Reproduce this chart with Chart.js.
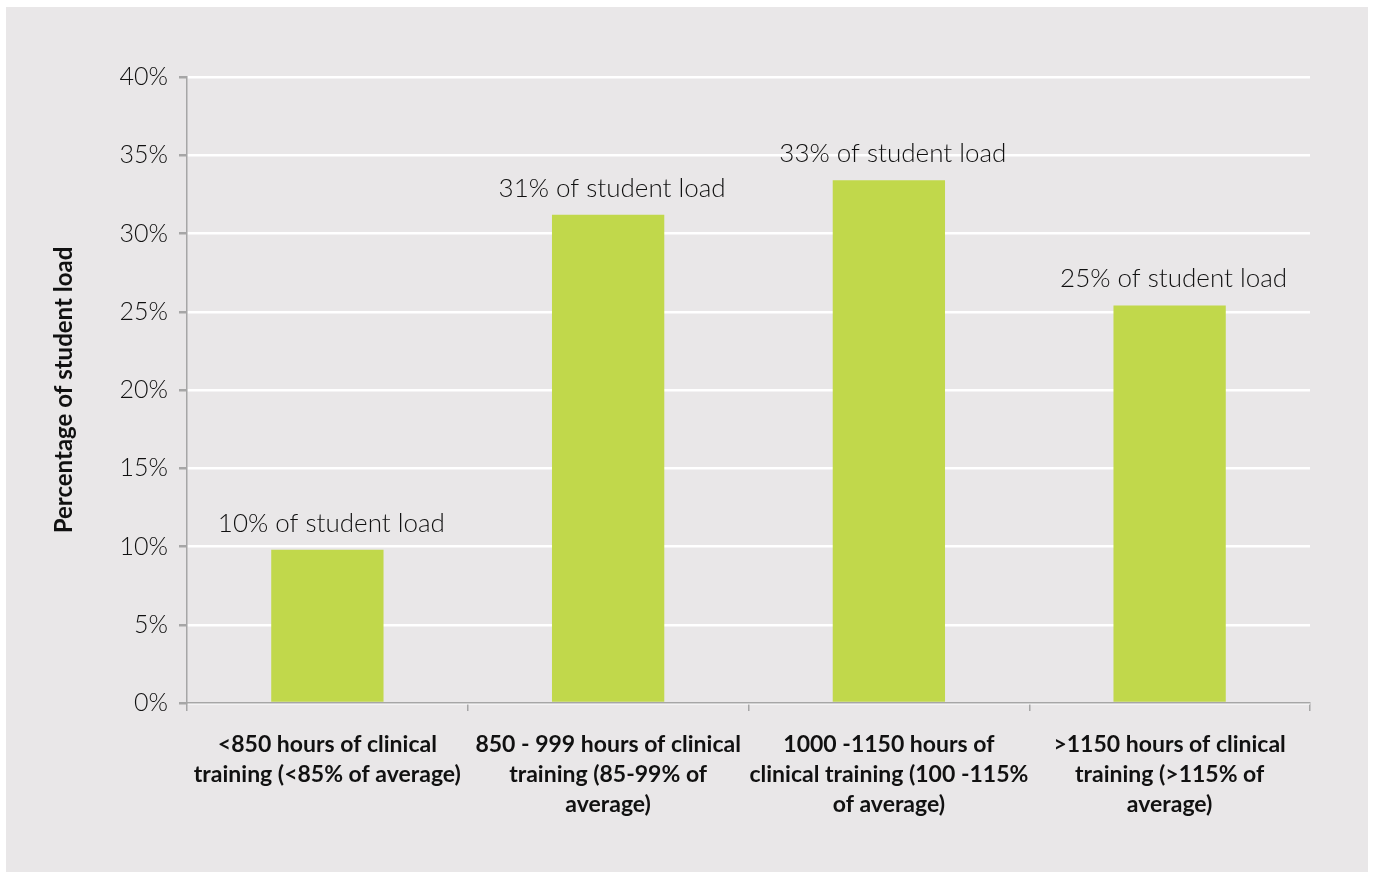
<!DOCTYPE html>
<html lang="en">

<head>
    <meta charset="UTF-8">
    <title>Clinical training hours by student load</title>
    <script src="https://cdn.jsdelivr.net/npm/chart.js"></script>
    <style>
        body {
            margin: 0;
            background: #ffffff;
            font-family: Lato, "Open Sans", sans-serif;
        }

        /* grey panel that holds the chart */
        .panel {
            position: absolute;
            left: 6px;
            top: 7px;
            width: 1362px;
            height: 865px;
            background: #e9e7e8;
        }

        #loadChart {
            width: 1362px !important;
            height: 865px !important;
        }
    </style>
</head>

<body>
    <div class="panel"><canvas id="loadChart" width="1362" height="865"></canvas></div>

    <script>
        // Categories (each label split into its lines)
        const categories = [
            ["<850 hours of clinical", "training (<85% of average)"],
            ["850 - 999 hours of clinical", "training (85-99% of", "average)"],
            ["1000 -1150 hours of", "clinical training (100 -115%", "of average)"],
            [">1150 hours of clinical", "training (>115% of", "average)"]
        ];
        // Share of student load, percent
        const studentLoad = [9.8, 31.2, 33.4, 25.4];
        const yTicks = [0, 5, 10, 15, 20, 25, 30, 35, 40];

        const barColor = "#c1d84b";
        const axisColor = "#a6a6a6";
        const textColor = "#111111";

        // Writes "NN% of student load" above every bar
        const barLabels = {
            id: "barLabels",
            afterDatasetsDraw(chart) {
                const ctx = chart.ctx;
                const meta = chart.getDatasetMeta(0);
                ctx.save();
                ctx.font = "300 26px Lato";
                ctx.fillStyle = textColor;
                ctx.textAlign = "center";
                ctx.textBaseline = "alphabetic";
                meta.data.forEach((bar, i) => {
                    const txt = Math.round(studentLoad[i]) + "% of student load";
                    ctx.fillText(txt, bar.x + 4, bar.y - 18);
                });
                ctx.restore();
            }
        };

        new Chart(document.getElementById("loadChart"), {
            type: "bar",
            data: {
                labels: categories,
                datasets: [{
                    data: studentLoad,
                    backgroundColor: barColor,
                    barPercentage: 0.4,
                    categoryPercentage: 1
                }]
            },
            options: {
                responsive: false,
                animation: false,
                layout: { padding: { left: 44, top: 70, right: 58, bottom: 20 } },
                plugins: {
                    legend: { display: false },
                    tooltip: { enabled: false }
                },
                scales: {
                    x: {
                        grid: {
                            offset: true,
                            drawOnChartArea: false,
                            color: axisColor,
                            tickLength: 8,
                            lineWidth: 1.5
                        },
                        border: { color: axisColor, width: 1.5 },
                        ticks: {
                            color: textColor,
                            font: { family: "Lato", size: 23, weight: "bold", lineHeight: 1.32 },
                            padding: 18,
                            maxRotation: 0,
                            autoSkip: false
                        },
                        afterFit(scale) { scale.height = 149; }
                    },
                    y: {
                        min: 0,
                        max: 40,
                        afterBuildTicks(scale) {
                            scale.ticks = yTicks.map(v => ({ value: v }));
                        },
                        grid: {
                            color: "#ffffff",
                            lineWidth: 2.5,
                            tickColor: axisColor,
                            tickLength: 8
                        },
                        border: { color: axisColor, width: 1.5 },
                        ticks: {
                            color: textColor,
                            font: { family: "Lato", size: 25, weight: "300" },
                            padding: 11,
                            callback: v => v + "%"
                        },
                        title: {
                            display: true,
                            text: "Percentage of student load",
                            color: textColor,
                            font: { family: "Lato", size: 24, weight: "bold" },
                            padding: 0
                        },
                        afterFit(scale) { scale.width = 137; }
                    }
                }
            },
            plugins: [barLabels]
        });
    </script>
</body>

</html>
